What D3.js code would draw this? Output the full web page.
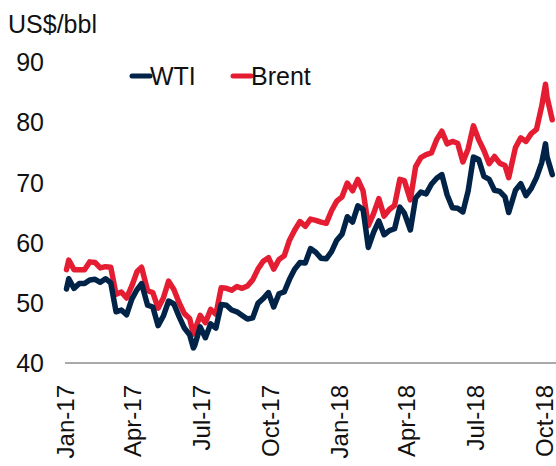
<!DOCTYPE html>
<html>
<head>
<meta charset="utf-8">
<script src="https://cdn.jsdelivr.net/npm/d3@7"></script>
<style>
  body { margin: 0; background: #fff; }
  text { font-family: "Liberation Sans", Arial, sans-serif; fill: #111; }
</style>
</head>
<body>
<div id="chart"></div>
<script>
// weekly closes (plus a few daily extremes), US$/bbl
var dates = [
  "2017-01-03","2017-01-06","2017-01-13","2017-01-20","2017-01-27",
  "2017-02-03","2017-02-10","2017-02-17","2017-02-24",
  "2017-03-03","2017-03-10","2017-03-17","2017-03-24","2017-03-31",
  "2017-04-07","2017-04-13","2017-04-21","2017-04-28",
  "2017-05-05","2017-05-12","2017-05-19","2017-05-26",
  "2017-06-02","2017-06-09","2017-06-16","2017-06-21","2017-06-23","2017-06-30",
  "2017-07-07","2017-07-14","2017-07-21","2017-07-28",
  "2017-08-04","2017-08-11","2017-08-18","2017-08-25",
  "2017-09-01","2017-09-08","2017-09-15","2017-09-22","2017-09-29",
  "2017-10-06","2017-10-13","2017-10-20","2017-10-27",
  "2017-11-03","2017-11-10","2017-11-17","2017-11-24",
  "2017-12-01","2017-12-08","2017-12-15","2017-12-22","2017-12-29",
  "2018-01-05","2018-01-12","2018-01-19","2018-01-26",
  "2018-02-02","2018-02-09","2018-02-16","2018-02-23",
  "2018-03-02","2018-03-09","2018-03-16","2018-03-23","2018-03-29",
  "2018-04-06","2018-04-13","2018-04-20","2018-04-27",
  "2018-05-04","2018-05-11","2018-05-18","2018-05-25",
  "2018-06-01","2018-06-08","2018-06-15","2018-06-22","2018-06-29",
  "2018-07-06","2018-07-13","2018-07-20","2018-07-27",
  "2018-08-03","2018-08-10","2018-08-15","2018-08-24","2018-08-31",
  "2018-09-07","2018-09-14","2018-09-21","2018-09-28",
  "2018-10-03","2018-10-05","2018-10-12"
];
var wti = [
  52.3,54.0,52.4,53.2,53.2,
  53.8,53.9,53.4,54.0,
  53.3,48.5,48.8,48.0,50.6,
  52.2,53.2,49.6,49.3,
  46.2,47.8,50.3,49.8,
  47.7,45.8,44.7,42.5,43.0,46.0,
  44.2,46.5,45.8,49.7,
  49.6,48.8,48.5,47.9,
  47.3,47.5,49.9,50.7,51.7,
  49.3,51.5,51.8,53.9,
  55.6,56.7,56.6,59.0,
  58.4,57.4,57.3,58.5,60.4,
  61.4,64.3,63.4,66.1,
  65.5,59.2,61.7,63.6,
  61.3,62.0,62.3,65.9,64.9,
  62.1,67.4,68.4,68.1,
  69.7,70.7,71.3,67.9,
  65.8,65.7,65.1,68.6,74.2,
  73.8,71.0,70.5,68.7,
  68.5,67.6,65.0,68.7,69.8,
  67.8,69.0,70.8,73.3,
  76.4,74.3,71.3
];
var brent = [
  55.5,57.1,55.5,55.5,55.5,
  56.8,56.7,55.8,56.0,
  55.9,51.4,51.8,50.8,52.8,
  55.2,55.9,52.0,51.7,
  49.1,50.8,53.6,52.2,
  50.0,48.2,47.4,44.8,45.5,47.9,
  46.7,48.9,48.1,52.5,
  52.4,52.1,52.7,52.4,
  52.8,53.8,55.6,56.9,57.5,
  55.6,57.2,57.8,60.4,
  62.1,63.5,62.7,63.9,
  63.7,63.4,63.2,65.3,66.9,
  67.6,69.9,68.6,70.5,
  68.6,62.8,64.8,67.3,
  64.4,65.5,66.2,70.5,70.3,
  67.1,72.6,74.1,74.6,
  74.9,77.1,78.5,76.4,
  76.8,76.5,73.4,75.6,79.4,
  77.1,75.3,73.1,74.3,
  73.2,72.8,70.8,75.8,77.4,
  76.8,78.1,78.8,82.7,
  86.3,84.2,80.4
];
var series = [
  { name: "Brent", values: brent, color: "#e51d33" },
  { name: "WTI", values: wti, color: "#002347" }
];
var yTicks = [40, 50, 60, 70, 80, 90];
var xTicks = ["2017-01-01","2017-04-01","2017-07-01","2017-10-01",
              "2018-01-01","2018-04-01","2018-07-01","2018-10-01"];

var W = 556, H = 466;
var parse = d3.timeParse("%Y-%m-%d");
var fmt = d3.timeFormat("%b-%y");

var svg = d3.select("#chart").append("svg")
    .attr("width", W).attr("height", H);

var x = d3.scaleTime()
    .domain([parse(xTicks[0]), parse(xTicks[xTicks.length - 1])])
    .range([65, 544]);
var y = d3.scaleLinear().domain([40, 90]).range([363, 62]);

// y axis labels
var yAxis = svg.append("g")
    .attr("transform", "translate(44,0)")
    .call(d3.axisLeft(y).tickValues(yTicks).tickSize(0).tickPadding(0));
yAxis.select(".domain").remove();
yAxis.selectAll("text")
    .style("font-family", "'Liberation Sans', Arial, sans-serif")
    .style("font-size", "25px").attr("fill", "#111").attr("dy", "0.35em");

// unit label
svg.append("text").attr("x", 8).attr("y", 33)
    .style("font-size", "25px").text("US$/bbl");

// x axis
var xAxis = svg.append("g")
    .attr("transform", "translate(0,363)")
    .call(d3.axisBottom(x).tickValues(xTicks.map(parse)).tickFormat(fmt).tickSize(0));
xAxis.select(".domain").remove();
xAxis.selectAll("text")
    .style("font-family", "'Liberation Sans', Arial, sans-serif")
    .style("font-size", "24px").attr("fill", "#111")
    .attr("text-anchor", "end")
    .attr("transform", "rotate(-90)")
    .attr("x", -22).attr("y", 0).attr("dy", "0.34em");
svg.append("line")
    .attr("x1", x(parse(xTicks[0]))).attr("x2", W)
    .attr("y1", y(40)).attr("y2", y(40))
    .attr("stroke", "#555").attr("stroke-width", 1.2);

// lines
var line = d3.line()
    .x(function (d, i) { return x(parse(dates[i])); })
    .y(function (d) { return y(d); });
svg.selectAll(".series")
    .data(series)
    .enter()
    .append("path")
    .attr("class", "series")
    .attr("d", function (d) { return line(d.values); })
    .attr("fill", "none")
    .attr("stroke", function (d) { return d.color; })
    .attr("stroke-width", 5.5)
    .attr("stroke-linejoin", "round")
    .attr("stroke-linecap", "round");

// legend
var legend = [
  { name: "WTI", color: "#002347", x: 132 },
  { name: "Brent", color: "#e51d33", x: 233 }
];
var lg = svg.selectAll(".legend").data(legend).enter().append("g")
    .attr("transform", function (d) { return "translate(" + d.x + ",76)"; });
lg.append("line").attr("x1", 0).attr("x2", 18).attr("y1", 0).attr("y2", 0)
    .attr("stroke", function (d) { return d.color; })
    .attr("stroke-width", 5).attr("stroke-linecap", "round");
lg.append("text").attr("x", 18).attr("y", 9)
    .style("font-size", "25px").text(function (d) { return d.name; });
</script>
</body>
</html>
